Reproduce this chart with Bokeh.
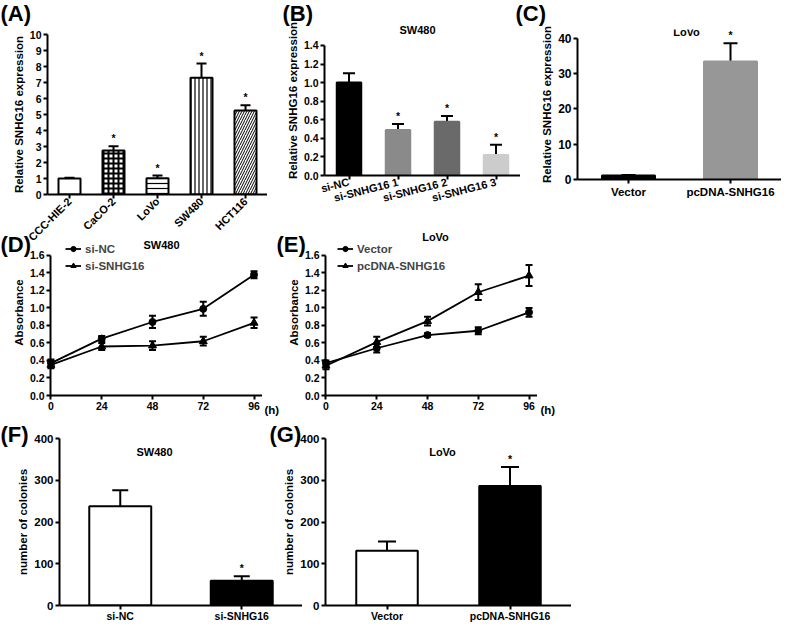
import math
from bokeh.plotting import figure
from bokeh.layouts import row, column
from bokeh.models import (Range1d, FactorRange, Whisker, TeeHead, Label, Legend, LegendItem,
                          FixedTicker, ColumnDataSource, NumeralTickFormatter, GridBox, Spacer)
from bokeh.core.properties import value
from bokeh.embed import file_html
from bokeh.resources import INLINE

FONT = "Liberation Sans"

# ---------------- data ----------------
# (A) relative SNHG16 expression in cell lines
a_cells = ["CCC-HIE-2", "CaCO-2", "LoVo", "SW480", "HCT116"]
a_expr = [1.0, 2.75, 1.02, 7.3, 5.25]
a_err = [0.05, 0.27, 0.16, 0.88, 0.33]
a_sig = ["", "*", "*", "*", "*"]
# (B) SW480 knock-down
b_groups = ["si-NC", "si-SNHG16 1", "si-SNHG16 2", "si-SNHG16 3"]
b_expr = [1.0, 0.49, 0.58, 0.22]
b_err = [0.1, 0.065, 0.06, 0.11]
b_sig = ["", "*", "*", "*"]
# (C) LoVo over-expression
c_groups = ["Vector", "pcDNA-SNHG16"]
c_expr = [1.1, 33.4]
c_err = [0.2, 5.2]
c_sig = ["", "*"]
# (D) SW480 absorbance
hours = [0, 24, 48, 72, 96]
d_sinc = [0.37, 0.65, 0.84, 0.99, 1.38]
d_sinc_err = [0.04, 0.03, 0.07, 0.08, 0.04]
d_sisnhg = [0.35, 0.56, 0.57, 0.62, 0.83]
d_sisnhg_err = [0.04, 0.04, 0.05, 0.05, 0.06]
# (E) LoVo absorbance
e_vector = [0.37, 0.54, 0.69, 0.74, 0.95]
e_vector_err = [0.03, 0.05, 0.02, 0.04, 0.05]
e_pcdna = [0.34, 0.61, 0.85, 1.18, 1.37]
e_pcdna_err = [0.04, 0.06, 0.05, 0.09, 0.12]
# (F) SW480 colonies
f_groups = ["si-NC", "si-SNHG16"]
f_colonies = [238, 59]
f_err = [38, 11]
f_sig = ["", "*"]
# (G) LoVo colonies
g_groups = ["Vector", "pcDNA-SNHG16"]
g_colonies = [131, 286]
g_err = [22, 46]
g_sig = ["", "*"]

panel_letters = ["(A)", "(B)", "(C)", "(D)", "(E)", "(F)", "(G)"]

layers = []


def place(obj, cx, cy):
    """wrap a figure so that its canvas starts cx, cy pixels from the page origin"""
    inner = row(Spacer(width=max(cx, 0), height=1), obj, align="start")
    outer = column(Spacer(width=1, height=max(cy, 0)), inner, align="start")
    layers.append(outer)


# ---------------- helpers ----------------
def make_fig(frame, x_range, y_range, borders, tick_size="10.5px", xaxis=True, yaxis=True):
    """frame = (left, top, width, height) in page pixels; borders = (left, top, right, bottom)"""
    fl, ft, fw, fh = frame
    bl, bt, br, bb = borders
    bl = min(bl, fl - 8)
    bt = min(bt, ft - 8)
    p = figure(x_range=x_range, y_range=y_range, frame_width=fw, frame_height=fh,
               min_border_left=bl, min_border_right=br, min_border_top=bt,
               min_border_bottom=bb, output_backend="svg", toolbar_location=None, tools="",
               x_axis_location="below" if xaxis else None,
               y_axis_location="left" if yaxis else None, align="start")
    p.outline_line_color = None
    p.grid.visible = False
    p.background_fill_alpha = 0
    p.border_fill_alpha = 0
    for ax in p.axis:
        ax.axis_line_color = "black"
        ax.axis_line_width = 2
        ax.major_tick_line_color = "black"
        ax.major_tick_line_width = 2
        ax.major_tick_out = 4
        ax.major_tick_in = 0
        ax.minor_tick_line_color = None
        ax.major_label_standoff = 2
        ax.major_label_text_font = FONT
        ax.major_label_text_font_style = "bold"
        ax.major_label_text_font_size = tick_size
        ax.major_label_text_color = "black"
        ax.axis_label_standoff = 2
        ax.axis_label_text_font = FONT
        ax.axis_label_text_font_style = "bold"
        ax.axis_label_text_font_size = "11.5px"
        ax.axis_label_text_color = "black"
    place(p, fl - 8 - bl, ft - 8 - bt)
    return p


def add_text(p, text, x, y, size="11px", align="center", baseline="middle"):
    p.add_layout(Label(x=x, y=y, x_units="screen", y_units="screen", text=text,
                       text_font=FONT, text_font_style="bold", text_font_size=size,
                       text_align=align, text_baseline=baseline, text_color="black"))


def bar_panel(p, xs, vals, errs, sig, fills, outline, width, head, lw=2, hatch=None):
    data = dict(x=xs, top=vals, up=[v + e for v, e in zip(vals, errs)], sig=sig, fill=fills,
                line=[outline if outline else f for f in fills])
    if hatch:
        data["hatch"] = hatch[0]
        data["hscale"] = hatch[1]
        data["hweight"] = hatch[2]
    src = ColumnDataSource(data)
    p.add_layout(Whisker(base="x", lower="top", upper="up", source=src, line_width=lw,
                         line_color="black", lower_head=None,
                         upper_head=TeeHead(size=head, line_width=lw, line_color="black")))
    kw = {}
    if hatch:
        kw = dict(hatch_pattern="hatch", hatch_scale="hscale", hatch_weight="hweight",
                  hatch_color="black")
    p.vbar(x="x", top="top", bottom=0, width=width, source=src, fill_color="fill",
           line_color="line", line_width=2, **kw)
    p.text(x="x", y="up", text="sig", source=src, text_align="center",
           text_baseline="bottom", y_offset=-2, text_font=value(FONT),
           text_font_style="bold", text_font_size="10.5px", text_color="black")


# ---------------- (A) ----------------
# the rotated tick labels make Bokeh shorten this frame by ~16 px, so ask for more
pA = make_fig((55, 42, 220, 160), FactorRange(*a_cells), Range1d(0, 10), (47, 34, 0, 130))
bar_panel(pA, a_cells, a_expr, a_err, a_sig, ["white"] * 5, "black", 0.5, 10,
          hatch=(["blank", "cross", "horizontal_line", "vertical_line", "right_diagonal_line"],
                 [5, 5, 5, 4, 5], [1, 2, 1.2, 1.2, 1]))
pA.yaxis.ticker = FixedTicker(ticks=list(range(0, 11)))
pA.yaxis.axis_label = "Relative SNHG16 expression"
pA.xaxis.major_label_orientation = math.pi / 4
pA.xaxis.major_label_text_font_size = "11px"
pA.xaxis.major_label_standoff = 1

# ---------------- (B) ----------------
pB = make_fig((332, 33, 196, 150), FactorRange(*b_groups), Range1d(0, 1.615),
              (54, 25, 0, 60))
bar_panel(pB, b_groups, b_expr, b_err, b_sig, ["#000000", "#8a8a8a", "#6a6a6a", "#cccccc"],
          None, 0.5, 12)
pB.yaxis.ticker = FixedTicker(ticks=[0, 0.2, 0.4, 0.6, 0.8, 1.0, 1.2, 1.4])
pB.yaxis.formatter = NumeralTickFormatter(format="0.0")
pB.yaxis.bounds = (0, 1.4)
pB.yaxis.axis_label = "Relative SNHG16 expression"
pB.xaxis.major_label_orientation = 0.25
pB.xaxis.major_label_text_font_size = "11px"
add_text(pB, "SW480", 93, 146)

# ---------------- (C) ----------------
pC = make_fig((585, 37, 204, 150), FactorRange(*c_groups), Range1d(0, 42.5),
              (50, 29, 0, 40), "12px")
bar_panel(pC, c_groups, c_expr, c_err, c_sig, ["#000000", "#979797"], None, 0.52, 14)
pC.yaxis.ticker = FixedTicker(ticks=[0, 10, 20, 30, 40])
pC.yaxis.bounds = (0, 40)
pC.yaxis.axis_label = "Relative SNHG16 expression"
pC.xaxis.major_label_text_font_size = "11.5px"
add_text(pC, "LoVo", 109, 148)


# ---------------- (D), (E) ----------------
def growth(axis_left, s1, s1e, s2, s2e, names, title, tx, ty, lx):
    y_rng = (0, 1.897)
    # axis layer: y axis sits exactly at hour 0
    pa = make_fig((axis_left, 237, 212, 166), Range1d(0, 100), Range1d(*y_rng),
                  (50, 30, 0, 30), "10.5px", xaxis=False)
    pa.yaxis.bounds = (0, 1.6)
    pa.yaxis.ticker = FixedTicker(ticks=[0, 0.2, 0.4, 0.6, 0.8, 1.0, 1.2, 1.4, 1.6])
    pa.yaxis.formatter = NumeralTickFormatter(format="0.0")
    pa.yaxis.axis_label = "Absorbance"
    # data layer: a little room left of hour 0 so the first points are not cut
    pd_ = make_fig((axis_left - 8, 237, 220, 166), Range1d(-4, 100), Range1d(*y_rng),
                   (40, 30, 0, 30), "10.5px", yaxis=False)
    pd_.xaxis.bounds = (0, 100)
    pd_.xaxis.ticker = FixedTicker(ticks=hours)
    rends = []
    for vals, errs, marker, msize in ((s1, s1e, "circle", 7), (s2, s2e, "triangle", 8)):
        src = ColumnDataSource(dict(x=hours, y=vals,
                                    lo=[v - e for v, e in zip(vals, errs)],
                                    hi=[v + e for v, e in zip(vals, errs)]))
        pd_.add_layout(Whisker(base="x", lower="lo", upper="hi", source=src, line_width=2,
                               line_color="black", level="glyph",
                               upper_head=TeeHead(size=7, line_width=2, line_color="black"),
                               lower_head=TeeHead(size=7, line_width=2, line_color="black")))
        ln = pd_.line("x", "y", source=src, line_color="black", line_width=1.8)
        mk = pd_.scatter("x", "y", source=src, marker=marker, size=msize,
                         fill_color="black", line_color="black")
        rends.append((ln, mk))
    legend = Legend(items=[LegendItem(label=names[0], renderers=list(rends[0])),
                           LegendItem(label=names[1], renderers=list(rends[1]))],
                    location=(lx, 123), orientation="vertical", padding=0, margin=0, spacing=4,
                    glyph_width=16, glyph_height=13, label_height=13, label_standoff=4,
                    label_text_font=FONT, label_text_font_style="bold",
                    label_text_font_size="11.5px", border_line_color=None,
                    background_fill_alpha=0)
    pd_.add_layout(legend)
    add_text(pd_, title, tx, ty)
    return pa, pd_


pDa, pDd = growth(58, d_sinc, d_sinc_err, d_sisnhg, d_sisnhg_err, ["si-NC", "si-SNHG16"],
                  "SW480", 119, 151, 23)
pEa, pEd = growth(333, e_vector, e_vector_err, e_pcdna, e_pcdna_err,
                  ["Vector", "pcDNA-SNHG16"], "LoVo", 118, 159, 20)

# ---------------- (F) ----------------
pF = make_fig((67, 446, 243, 167), FactorRange(*f_groups), Range1d(0, 400),
              (59, 30, 0, 18), "11.5px")
bar_panel(pF, f_groups, f_colonies, f_err, f_sig, ["white", "black"], "black", 0.51, 16)
pF.xaxis.major_label_text_font_size = "10.5px"
pF.xaxis.major_label_standoff = 0
pF.yaxis.ticker = FixedTicker(ticks=[0, 100, 200, 300, 400])
pF.yaxis.axis_label = "number of colonies"
add_text(pF, "SW480", 95, 154)

# ---------------- (G) ----------------
pG = make_fig((333, 446, 246, 167), FactorRange(*g_groups), Range1d(0, 400),
              (50, 30, 0, 18), "11.5px")
bar_panel(pG, g_groups, g_colonies, g_err, g_sig, ["white", "black"], "black", 0.5, 18)
pG.xaxis.major_label_text_font_size = "10.5px"
pG.xaxis.major_label_standoff = 0
pG.yaxis.ticker = FixedTicker(ticks=[0, 100, 200, 300, 400])
pG.yaxis.axis_label = "number of colonies"
add_text(pG, "LoVo", 117, 154)

# ---------------- transparent overlay for panel letters and the "(h)" unit ----------------
ov = figure(x_range=Range1d(0, 780), y_range=Range1d(620, 0), frame_width=780,
            frame_height=620, min_border=0, x_axis_location=None, y_axis_location=None,
            output_backend="svg", toolbar_location=None, tools="", align="start")
ov.outline_line_color = None
ov.grid.visible = False
ov.background_fill_alpha = 0
ov.border_fill_alpha = 0
letter_xy = [(0, 0), (282, 0), (515, 0), (0, 231), (276, 231), (0, 421), (269, 421)]
for txt, (lx, ly) in zip(panel_letters, letter_xy):
    ov.add_layout(Label(x=lx, y=ly, text=txt, text_font=FONT, text_font_style="bold",
                        text_font_size="22px", text_baseline="top", text_align="left",
                        text_color="black"))
for hx in (264, 540):
    ov.add_layout(Label(x=hx, y=409, text="(h)", text_font=FONT, text_font_style="bold",
                        text_font_size="11.5px", text_baseline="middle", text_align="left",
                        text_color="black"))
place(ov, 0, 0)

layout = GridBox(children=[(layer, 0, 0) for layer in layers], align="start")
open("out.html", "w").write(file_html(layout, INLINE))
